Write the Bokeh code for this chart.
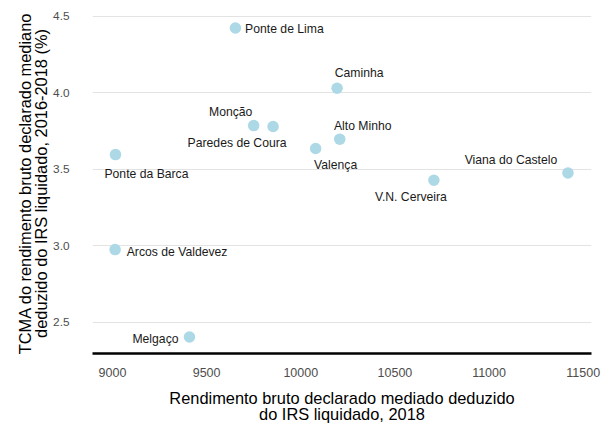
from bokeh.plotting import figure
from bokeh.models import ColumnDataSource, FixedTicker, NumeralTickFormatter, Range1d
from bokeh.core.properties import value
from bokeh.embed import file_html
from bokeh.resources import INLINE

names = ["Ponte de Lima", "Caminha", "Monção", "Paredes de Coura", "Alto Minho",
         "Valença", "Viana do Castelo", "V.N. Cerveira", "Ponte da Barca",
         "Arcos de Valdevez", "Melgaço"]
rendimento = [9653, 10193, 9750, 9853, 10207, 10079, 11419, 10707, 9016, 9014, 9409]
tcma = [4.425, 4.03, 3.786, 3.78, 3.697, 3.636, 3.476, 3.428, 3.596, 2.974, 2.402]

# label offsets in screen pixels (layout only)
label_dx = [49, 22, -23, -36, 23, 20, -57, -23, 31, 62, -34]
label_dy = [1, -15, -14, 17, -13, 17, -13, 17, 19, 2, 2]

x_ticks = [9000, 9500, 10000, 10500, 11000, 11500]
y_ticks = [2.5, 3.0, 3.5, 4.0, 4.5]

src = ColumnDataSource(dict(x=rendimento, y=tcma, name=names, dx=label_dx, dy=label_dy))

FONT = "Liberation Sans"

p = figure(frame_width=499, frame_height=340, output_backend="svg", toolbar_location=None,
           x_range=Range1d(8894, 11544), y_range=Range1d(2.294, 4.5196),
           min_border_left=92, min_border_right=12, min_border_top=13, min_border_bottom=66)
p.outline_line_color = None

p.scatter("x", "y", source=src, size=11.5, color="#ADD8E6", line_color=None)
p.text("x", "y", text="name", source=src, x_offset="dx", y_offset="dy",
       text_align="center", text_baseline="middle", text_font=value(FONT),
       text_font_size="12.2px", text_color="#1a1a1a")

p.xgrid.grid_line_color = None
p.ygrid.grid_line_color = "#e3e3e3"

p.xaxis.ticker = FixedTicker(ticks=x_ticks)
p.yaxis.ticker = FixedTicker(ticks=y_ticks)
p.yaxis.formatter = NumeralTickFormatter(format="0.0")
p.xaxis.formatter = NumeralTickFormatter(format="0")

for ax in (p.xaxis, p.yaxis):
    ax.major_tick_line_color = None
    ax.minor_tick_line_color = None
    ax.major_label_text_font = FONT
    ax.major_label_text_color = "#4d4d4d"
    ax.axis_label_text_font = FONT
    ax.axis_label_text_font_size = "16.4px"
    ax.axis_label_text_font_style = "normal"
    ax.axis_label_text_color = "#000000"
    ax.axis_label_text_line_height = 0.92

p.xaxis.major_label_text_font_size = "12.5px"
p.yaxis.major_label_text_font_size = "11.8px"
p.yaxis.axis_line_color = None
p.xaxis.axis_line_color = "black"
p.xaxis.axis_line_width = 2.5
p.xaxis.major_label_standoff = 8
p.yaxis.major_label_standoff = 17
p.xaxis.axis_label = "Rendimento bruto declarado mediado deduzido\ndo IRS liquidado, 2018"
p.yaxis.axis_label = "TCMA do rendimento bruto declarado mediano\ndeduzido do IRS liquidado, 2016-2018 (%)"
p.xaxis.axis_label_standoff = 9
p.yaxis.axis_label_standoff = 0

open("out.html", "w").write(file_html(p, INLINE))
